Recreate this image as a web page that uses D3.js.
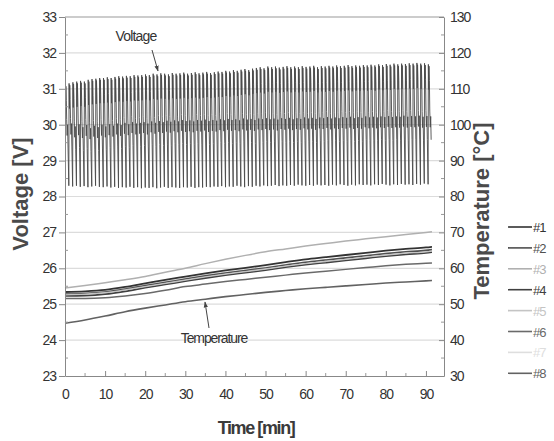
<!DOCTYPE html>
<html>
<head>
<meta charset="utf-8">
<script src="https://cdn.jsdelivr.net/npm/d3@7"></script>
<style>
  html, body { margin: 0; padding: 0; background: #fff; }
  svg { display: block; }
  .tick text { font-family: "Liberation Sans", Arial, sans-serif; font-size: 14px; letter-spacing: -1px; fill: #333; }
</style>
</head>
<body>
<svg id="chart" width="554" height="441"></svg>
<script>
// ---- data -------------------------------------------------------------
const timeTicks = [0, 10, 20, 30, 40, 50, 60, 70, 80, 90];
const voltTicks = [23, 24, 25, 26, 27, 28, 29, 30, 31, 32, 33];
const tempTicks = [30, 40, 50, 60, 70, 80, 90, 100, 110, 120, 130];

// voltage switching signal: one entry per switching cycle
const cyclePeriod = 0.953; // min
const cyclePeaks = [
  31.12,31.15,31.18,31.20,31.22,31.20,31.25,31.27,31.28,31.30,
  31.30,31.32,31.30,31.33,31.35,31.34,31.36,31.35,31.38,31.37,
  31.38,31.40,31.38,31.42,31.40,31.43,31.42,31.40,31.44,31.42,
  31.43,31.45,31.42,31.44,31.46,31.43,31.45,31.47,31.44,31.46,
  31.48,31.47,31.50,31.48,31.52,31.50,31.53,31.55,31.52,31.56,
  31.58,31.60,31.57,31.62,31.60,31.62,31.59,31.61,31.63,31.60,
  31.62,31.60,31.63,31.61,31.62,31.64,31.60,31.63,31.62,31.64,
  31.62,31.65,31.63,31.64,31.66,31.63,31.65,31.64,31.66,31.65,
  31.67,31.65,31.68,31.66,31.69,31.67,31.70,31.68,31.70,31.69,
  31.71,31.70,31.72,31.70,31.71,31.68
];
const cycleMids = [
  29.85,29.88,29.80,29.86,29.78,29.84,29.75,29.82,29.78,29.85,
  29.80,29.86,29.82,29.88,29.84,29.90,29.86,29.92,29.88,29.90,
  29.92,29.88,29.94,29.90,29.95,29.92,29.96,29.93,29.97,29.94,
  29.98,29.95,29.97,29.94,29.98,29.96,29.99,29.95,29.98,29.96,
  30.00,29.97,30.01,29.98,30.00,29.97,30.02,29.99,30.01,29.98,
  30.02,30.00,30.03,30.00,30.02,29.99,30.03,30.01,30.04,30.00,
  30.03,30.01,30.05,30.02,30.04,30.01,30.05,30.03,30.06,30.02,
  30.05,30.03,30.06,30.04,30.07,30.03,30.06,30.04,30.08,30.05,
  30.07,30.05,30.08,30.06,30.09,30.06,30.08,30.07,30.10,30.07,
  30.09,30.08,30.10,30.07,30.09,30.08
];
const cycleTroughs = [
  28.32,28.30,28.28,28.30,28.27,28.29,28.26,28.28,28.30,28.27,
  28.26,28.28,28.25,28.27,28.24,28.26,28.25,28.27,28.24,28.26,
  28.23,28.25,28.24,28.26,28.23,28.25,28.27,28.24,28.26,28.25,
  28.24,28.26,28.25,28.27,28.24,28.26,28.25,28.27,28.26,28.28,
  28.27,28.29,28.26,28.28,28.27,28.30,28.28,28.26,28.29,28.27,
  28.30,28.28,28.31,28.29,28.30,28.32,28.29,28.31,28.30,28.32,
  28.30,28.33,28.31,28.30,28.32,28.30,28.33,28.31,28.32,28.30,
  28.33,28.31,28.34,28.32,28.30,28.33,28.31,28.34,28.32,28.33,
  28.31,28.34,28.32,28.35,28.33,28.31,28.34,28.32,28.35,28.33,
  28.34,28.32,28.35,28.33,28.36,28.34
];
// shape of one cycle: [fraction of period, level, offset (V)]
const cycleShape = [
  [0.00, "trough", 0],
  [0.07, "peak", 0],
  [0.16, "peak", -0.70],
  [0.24, "peak", -0.05],
  [0.34, "peak", -0.45],
  [0.44, "mid", 0.30],
  [0.56, "mid", -0.15],
  [0.68, "mid", 0.15],
  [0.80, "mid", -0.50]
];

// temperature of the eight samples (°C), read at these times (min)
const tempTimes = [0,5,10,15,20,25,30,35,40,45,50,55,60,65,70,75,80,85,90,91.5];
const temp1 = [53.4,53.6,54.0,54.8,55.8,56.8,57.7,58.6,59.4,60.1,60.9,61.7,62.5,63.1,63.7,64.3,64.9,65.4,65.8,66.0];
const temp2 = [52.8,53.0,53.4,54.2,55.2,56.1,57.0,57.9,58.7,59.4,60.1,60.9,61.7,62.3,62.9,63.5,64.1,64.6,65.0,65.2];
const temp3 = [54.5,55.2,56.0,56.8,57.7,58.9,60.0,61.3,62.5,63.6,64.6,65.4,66.2,66.9,67.6,68.2,68.8,69.4,70.0,70.2];
const temp4 = [52.3,52.4,52.8,53.6,54.6,55.5,56.4,57.3,58.1,58.8,59.5,60.3,61.0,61.6,62.2,62.8,63.4,63.9,64.3,64.5];
const temp5 = [52.6,52.8,53.2,54.0,54.9,55.8,56.7,57.6,58.4,59.1,59.8,60.6,61.3,61.9,62.5,63.1,63.7,64.2,64.6,64.8];
const temp6 = [51.6,51.6,51.8,52.3,53.0,53.9,54.9,55.6,56.3,56.9,57.5,58.1,58.7,59.2,59.7,60.2,60.7,61.1,61.4,61.5];
const temp7 = [53.0,53.2,53.6,54.4,55.4,56.3,57.2,58.1,58.9,59.6,60.3,61.1,61.8,62.4,63.0,63.6,64.2,64.7,65.1,65.3];
const temp8 = [44.7,45.6,46.7,47.9,48.9,49.8,50.7,51.4,52.1,52.7,53.3,53.8,54.3,54.7,55.1,55.5,55.9,56.2,56.5,56.6];
const seriesNames = ["#1","#2","#3","#4","#5","#6","#7","#8"];
const seriesValues = [temp1, temp2, temp3, temp4, temp5, temp6, temp7, temp8];

// ---- layout -----------------------------------------------------------
const svg = d3.select("#chart");
const L = 65, R = 444, T = 17, B = 376;
const x = d3.scaleLinear().domain([0, 94.5]).range([L, R]);
const yV = d3.scaleLinear().domain([23, 33]).range([B, T]);
const yT = d3.scaleLinear().domain([30, 130]).range([B, T]);
const seriesColors = ["#333","#505050","#b0b0b0","#404040","#c4c4c4","#6a6a6a","#dedede","#626262"];
const seriesWidths = [1.8,1.6,1.5,1.8,1.3,1.5,1.3,1.6];
const drawOrder = [7,5,2,6,3,1,0,4];

svg.append("defs").append("clipPath").attr("id", "plot")
  .append("rect").attr("x", L).attr("y", T).attr("width", R - L).attr("height", B - T);

// horizontal grid
svg.append("g").selectAll("line").data(voltTicks.slice(1, -1)).join("line")
  .attr("x1", L).attr("x2", R)
  .attr("y1", d => yV(d)).attr("y2", d => yV(d))
  .attr("stroke", "#dcdcdc").attr("stroke-width", 1.2);

// voltage signal
const vPoints = [];
cyclePeaks.forEach((pk, i) => {
  const lv = { peak: pk, mid: cycleMids[i], trough: cycleTroughs[i] };
  cycleShape.forEach(([f, key, off]) => {
    vPoints.push([(i + f) * cyclePeriod, lv[key] + off]);
  });
});
svg.append("path")
  .attr("clip-path", "url(#plot)")
  .attr("d", d3.line().x(d => x(d[0])).y(d => yV(d[1]))(vPoints))
  .attr("fill", "none").attr("stroke", "#4a4a4a").attr("stroke-width", 0.9);

// temperature curves
const tLine = d3.line().curve(d3.curveMonotoneX)
  .x((d, i) => x(tempTimes[i])).y(d => yT(d));
svg.append("g").selectAll("path").data(drawOrder).join("path")
  .attr("d", k => tLine(seriesValues[k]))
  .attr("fill", "none")
  .attr("stroke", k => seriesColors[k])
  .attr("stroke-width", k => seriesWidths[k]);

// frame: top line
svg.append("line").attr("x1", L).attr("x2", R).attr("y1", T).attr("y2", T)
  .attr("stroke", "#999").attr("stroke-width", 1);

// axes
const styleAxis = g => {
  g.select(".domain").attr("stroke", "#888");
  g.selectAll(".tick line").attr("stroke", "#888");
};
svg.append("g").attr("transform", `translate(${L},0)`)
  .call(d3.axisLeft(yV).tickValues(voltTicks).tickSize(6).tickSizeOuter(0).tickPadding(3))
  .call(styleAxis);
svg.append("g").attr("transform", `translate(${R},0)`)
  .call(d3.axisRight(yT).tickValues(tempTicks).tickSize(-5).tickSizeOuter(0).tickPadding(6))
  .call(styleAxis);
svg.append("g").attr("transform", `translate(0,${B})`)
  .call(d3.axisBottom(x).tickValues(timeTicks).tickSize(-5).tickSizeOuter(0).tickPadding(13))
  .call(styleAxis);

// minor ticks
const minor = svg.append("g").attr("stroke", "#999");
minor.selectAll(".mx").data(d3.range(5, 95, 10)).join("line")
  .attr("x1", d => x(d)).attr("x2", d => x(d)).attr("y1", B).attr("y2", B - 3);
minor.selectAll(".ml").data(voltTicks.slice(0, -1).map(v => v + 0.5)).join("line")
  .attr("x1", L).attr("x2", L + 3).attr("y1", d => yV(d)).attr("y2", d => yV(d));
minor.selectAll(".mr").data(tempTicks.slice(0, -1).map(v => v + 5)).join("line")
  .attr("x1", R).attr("x2", R - 3).attr("y1", d => yT(d)).attr("y2", d => yT(d));

// axis titles
const bold = "'Liberation Sans', Arial, sans-serif";
svg.append("text").text("Voltage [V]")
  .attr("transform", "translate(28,194) rotate(-90)")
  .attr("text-anchor", "middle").attr("font-family", bold).attr("font-weight", "bold")
  .attr("font-size", 22).attr("fill", "#4a4a4a");
svg.append("text").text("Temperature [°C]")
  .attr("transform", "translate(489,211) rotate(-90)")
  .attr("text-anchor", "middle").attr("font-family", bold).attr("font-weight", "bold")
  .attr("font-size", 22).attr("fill", "#4a4a4a");
svg.append("text").text("Time [min]")
  .attr("x", 256).attr("y", 434)
  .attr("text-anchor", "middle").attr("font-family", bold).attr("font-weight", "bold")
  .attr("font-size", 18).attr("letter-spacing", -1.4).attr("fill", "#3a3a3a");

// annotations
svg.append("defs").append("marker").attr("id", "arr")
  .attr("viewBox", "0 0 10 10").attr("refX", 9).attr("refY", 5)
  .attr("markerWidth", 6).attr("markerHeight", 6).attr("orient", "auto")
  .append("path").attr("d", "M0,1.5 L10,5 L0,8.5 Z").attr("fill", "#444");
svg.append("text").text("Voltage").attr("x", 136).attr("y", 41)
  .attr("text-anchor", "middle").attr("font-family", bold).attr("font-size", 14)
  .attr("letter-spacing", -0.8).attr("fill", "#333");
svg.append("line").attr("x1", 152).attr("y1", 50).attr("x2", 158).attr("y2", 71)
  .attr("stroke", "#444").attr("stroke-width", 1).attr("marker-end", "url(#arr)");
svg.append("text").text("Temperature").attr("x", 214).attr("y", 343)
  .attr("text-anchor", "middle").attr("font-family", bold).attr("font-size", 14)
  .attr("letter-spacing", -1.1).attr("fill", "#333");
svg.append("line").attr("x1", 209).attr("y1", 328).attr("x2", 205).attr("y2", 302)
  .attr("stroke", "#444").attr("stroke-width", 1).attr("marker-end", "url(#arr)");

// legend
const leg = svg.append("g").selectAll("g").data(seriesNames).join("g")
  .attr("transform", (d, i) => `translate(0,${227 + i * 20.9})`);
leg.append("line").attr("x1", 508).attr("x2", 532).attr("y1", 0).attr("y2", 0)
  .attr("stroke", (d, i) => seriesColors[i]).attr("stroke-width", 1.6);
leg.append("text").text(d => d).attr("x", 533).attr("y", 5)
  .attr("font-family", bold).attr("font-size", 13).attr("letter-spacing", -1)
  .attr("fill", (d, i) => seriesColors[i]);
</script>
</body>
</html>
